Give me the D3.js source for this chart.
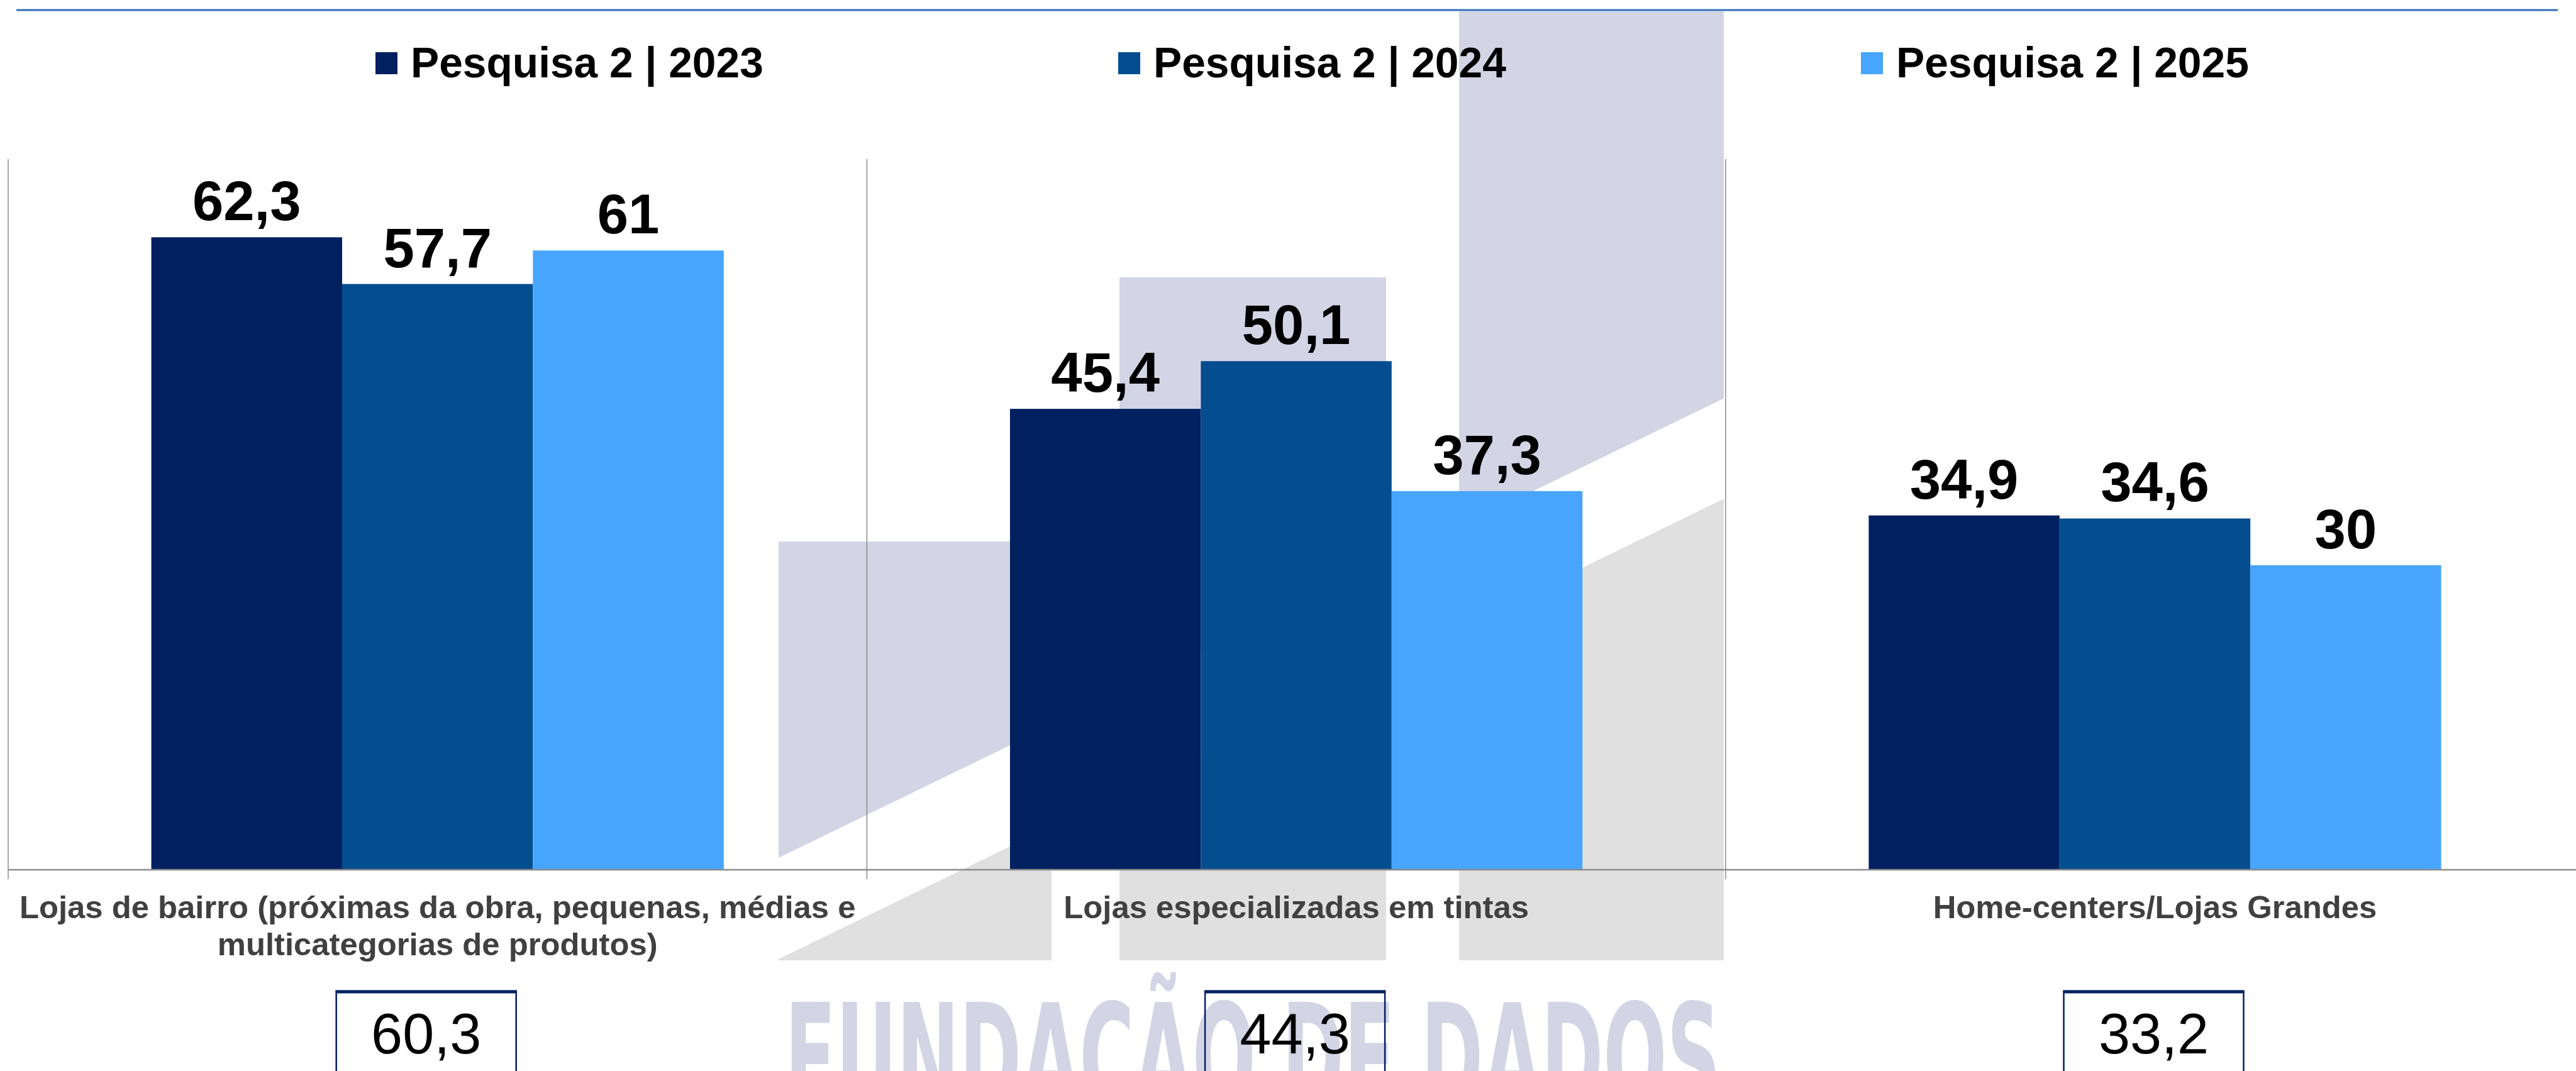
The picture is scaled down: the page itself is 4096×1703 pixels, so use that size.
<!DOCTYPE html>
<html>
<head>
<meta charset="utf-8">
<script src="https://cdn.jsdelivr.net/npm/d3@7/dist/d3.min.js"></script>
<title>Pesquisa 2 - canais de compra</title>
<style>
    html, body { margin: 0; padding: 0; background: #fff; overflow: hidden; }
    svg { display: block; }
    text { font-family: "Liberation Sans", Arial, sans-serif; }
</style>
</head>
<body>
<div id="chart"></div>
<script>
    // data
    var categories = [
        'Lojas de bairro (próximas da obra, pequenas, médias e multicategorias de produtos)',
        'Lojas especializadas em tintas',
        'Home-centers/Lojas Grandes'
    ];
    var seriesNames = ['Pesquisa 2 | 2023', 'Pesquisa 2 | 2024', 'Pesquisa 2 | 2025'];
    var values2023 = [62.3, 45.4, 34.9];
    var values2024 = [57.7, 50.1, 34.6];
    var values2025 = [61, 37.3, 30];
    var averages = [60.3, 44.3, 33.2];
    var colors = ['#002060', '#044E8F', '#47A5FD'];
</script>
<script>
    var width = 4096, height = 1703;
    var svg = d3.select('#chart').append('svg')
        .attr('width', width)
        .attr('height', height);

    var series = [values2023, values2024, values2025];
    var fmt = function (v) { return String(v).replace('.', ','); };

    // background watermark (logo + text)
    var wm = svg.append('g');
    var cols = [[1238, 1672, 861], [1780, 2204, 441], [2320, 2741, 18]];
    var lavY = function (x) { return 1364 - 0.486 * (x - 1238); };
    var grayY = function (x) { return 1525 - 0.487 * (x - 1238); };
    cols.forEach(function (c) {
        wm.append('polygon')
            .attr('points', [[c[0], c[2]], [c[1], c[2]], [c[1], lavY(c[1])], [c[0], lavY(c[0])]].join(' '))
            .attr('fill', '#D3D5E5');
        var gl = Math.min(1527, grayY(c[0]));
        var pts = [[c[0], gl], [c[1], grayY(c[1])], [c[1], 1527], [c[0], 1527]];
        wm.append('polygon').attr('points', pts.join(' ')).attr('fill', '#E0E0E0');
    });
    wm.append('text')
        .attr('x', 1248)
        .attr('y', 1765)
        .attr('textLength', 1488)
        .attr('lengthAdjust', 'spacingAndGlyphs')
        .style('font-family', '"DejaVu Sans Condensed", "DejaVu Sans", sans-serif')
        .style('font-weight', 'bold')
        .style('font-size', '236px')
        .attr('fill', '#D3D5E5')
        .text('FUNDAÇÃO DE DADOS');

    // top rule
    svg.append('line')
        .attr('x1', 26).attr('x2', 4067)
        .attr('y1', 16).attr('y2', 16)
        .attr('stroke', '#2F6EBA')
        .attr('stroke-width', 3);

    // scales
    var x = d3.scaleBand().domain(categories).range([13, 13 + 3 * 1365.4]);
    var xs = d3.scaleBand().domain(seriesNames).range([0, x.bandwidth()])
        .paddingInner(0).paddingOuter(0.75);
    var y = d3.scaleLinear().domain([0, 70]).range([1383, 253]);

    // category separators
    var edges = categories.map(function (c) { return x(c); }).concat([x.range()[1]]);
    svg.append('g').selectAll('line')
        .data(edges)
        .join('line')
        .attr('x1', function (d) { return d; })
        .attr('x2', function (d) { return d; })
        .attr('y1', y(70))
        .attr('y2', y(0) + 15)
        .attr('stroke', '#8C8C8C')
        .attr('stroke-width', 1.5);

    // bars
    var groups = svg.append('g').selectAll('g')
        .data(categories)
        .join('g')
        .attr('transform', function (d) { return 'translate(' + x(d) + ',0)'; });

    groups.selectAll('rect')
        .data(function (d, i) { return seriesNames.map(function (s, j) { return { s: s, v: series[j][i], j: j }; }); })
        .join('rect')
        .attr('x', function (d) { return xs(d.s); })
        .attr('width', xs.bandwidth())
        .attr('y', function (d) { return y(d.v); })
        .attr('height', function (d) { return y(0) - y(d.v); })
        .attr('fill', function (d) { return colors[d.j]; });

    groups.selectAll('text.val')
        .data(function (d, i) { return seriesNames.map(function (s, j) { return { s: s, v: series[j][i] }; }); })
        .join('text')
        .attr('class', 'val')
        .attr('x', function (d) { return xs(d.s) + xs.bandwidth() / 2; })
        .attr('y', function (d) { return y(d.v) - 27; })
        .attr('text-anchor', 'middle')
        .style('font-weight', 'bold')
        .style('font-size', '88.7px')
        .attr('fill', '#000')
        .text(function (d) { return fmt(d.v); });

    // axis baseline
    svg.append('g')
        .attr('transform', 'translate(0,' + y(0) + ')')
        .call(d3.axisBottom(x).tickSize(0).tickFormat(''))
        .call(function (g) {
            g.select('.domain').attr('d', 'M' + x.range()[0] + ',0H' + width)
                .attr('stroke', '#8C8C8C').attr('stroke-width', 2.5);
        });

    // category labels, wrapped to band width
    var labels = svg.append('g').selectAll('text')
        .data(categories)
        .join('text')
        .attr('x', function (d) { return x(d) + x.bandwidth() / 2; })
        .attr('y', 1460)
        .attr('text-anchor', 'middle')
        .style('font-weight', 'bold')
        .style('font-size', '50.8px')
        .attr('fill', '#404040');

    labels.each(function (d) {
        var t = d3.select(this);
        var words = d.split(' ');
        var line = [];
        var lineNo = 0;
        var cx = t.attr('x');
        var tspan = t.append('tspan').attr('x', cx).attr('dy', 0);
        words.forEach(function (w) {
            line.push(w);
            tspan.text(line.join(' '));
            if (tspan.node().getComputedTextLength() > x.bandwidth() - 8 && line.length > 1) {
                line.pop();
                tspan.text(line.join(' '));
                line = [w];
                lineNo++;
                tspan = t.append('tspan').attr('x', cx).attr('dy', 58.8).text(w);
            }
        });
    });

    // average boxes
    var boxOffset = [-18, -2, -2];
    var boxes = svg.append('g').selectAll('g')
        .data(categories)
        .join('g')
        .attr('transform', function (d, i) {
            return 'translate(' + (x(d) + x.bandwidth() / 2 + boxOffset[i]) + ',0)';
        });
    boxes.append('rect')
        .attr('x', -143).attr('y', 1576)
        .attr('width', 286).attr('height', 200)
        .attr('fill', 'none')
        .attr('stroke', '#002060')
        .attr('stroke-width', 2.5);
    boxes.append('line')
        .attr('x1', -144).attr('x2', 144)
        .attr('y1', 1577).attr('y2', 1577)
        .attr('stroke', '#002060')
        .attr('stroke-width', 5);
    boxes.append('text')
        .attr('x', 0).attr('y', 1675)
        .attr('text-anchor', 'middle')
        .style('font-size', '90px')
        .attr('fill', '#000')
        .text(function (d, i) { return fmt(averages[i]); });

    // legend
    var legend = svg.append('g').selectAll('g')
        .data(seriesNames)
        .join('g')
        .attr('transform', function (d, i) { return 'translate(' + (597 + i * 1181) + ',0)'; });
    legend.append('rect')
        .attr('x', 0).attr('y', 83)
        .attr('width', 35).attr('height', 35)
        .attr('fill', function (d, i) { return colors[i]; });
    legend.append('text')
        .attr('x', 56).attr('y', 122.5)
        .style('font-weight', 'bold')
        .style('font-size', '67.7px')
        .attr('fill', '#000')
        .text(function (d) { return d; });
</script>
</body>
</html>
